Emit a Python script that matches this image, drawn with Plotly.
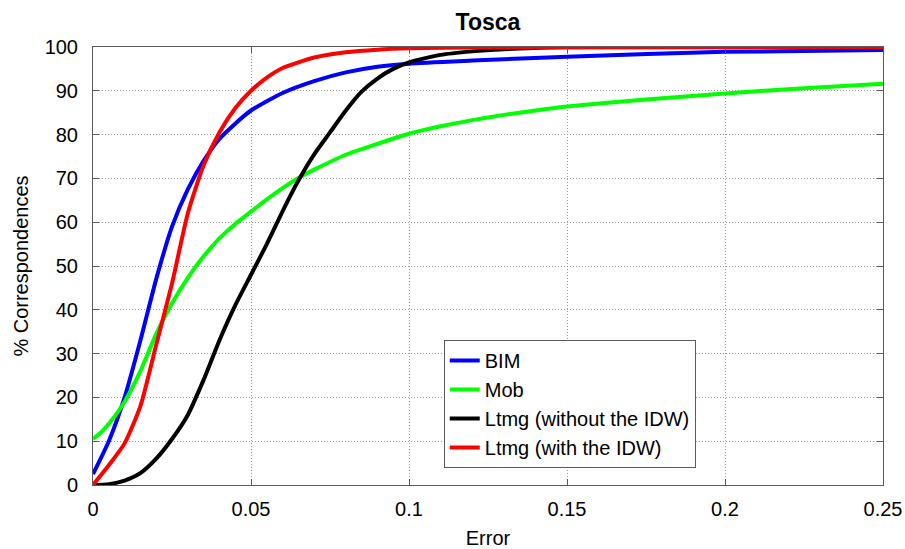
import plotly.graph_objects as go

bim_x = [0, 0.005, 0.01, 0.015, 0.02, 0.025, 0.03, 0.035, 0.04, 0.045, 0.05, 0.06, 0.07, 0.08, 0.09, 0.1, 0.12, 0.15, 0.2, 0.25]
bim_y = [2.5, 10, 20, 33, 47, 59, 67.5, 74, 79, 82.5, 85.5, 89.5, 92.2, 94.2, 95.5, 96.2, 96.9, 97.8, 98.9, 99.3]

mob_x = [0, 0.0025, 0.005, 0.0075, 0.01, 0.015, 0.02, 0.025, 0.03, 0.035, 0.04, 0.045, 0.05, 0.055, 0.06, 0.065, 0.07, 0.08, 0.09, 0.1, 0.11, 0.12, 0.13, 0.14, 0.15, 0.175, 0.2, 0.225, 0.25]
mob_y = [10.5, 12, 14, 16.3, 19, 26, 34.5, 41.5, 47.3, 52.2, 56.3, 59.6, 62.4, 65.2, 67.8, 70.1, 72.0, 75.4, 77.9, 80.2, 81.9, 83.3, 84.5, 85.5, 86.4, 88.0, 89.4, 90.6, 91.6]

ltmg_x = [0, 0.005, 0.01, 0.015, 0.02, 0.025, 0.03, 0.035, 0.04, 0.045, 0.05, 0.055, 0.06, 0.065, 0.07, 0.075, 0.08, 0.085, 0.09, 0.095, 0.1, 0.11, 0.12, 0.13, 0.14, 0.15, 0.25]
ltmg_y = [0, 0.2, 1, 2.7, 6, 10.5, 16, 24, 33, 41, 48, 55, 62.5, 69.5, 75.5, 80.5, 85.5, 89.8, 92.8, 95, 96.5, 98.2, 99, 99.5, 99.8, 100, 100]

idw_x = [0, 0.005, 0.01, 0.015, 0.02, 0.025, 0.03, 0.035, 0.04, 0.045, 0.05, 0.055, 0.06, 0.065, 0.07, 0.08, 0.09, 0.1, 0.12, 0.25]
idw_y = [0, 4.5, 9.5, 18, 32, 46, 62, 73, 80.5, 86, 90, 93, 95.2, 96.5, 97.6, 98.8, 99.4, 99.7, 99.9, 100]

x_ticks = [0, 0.05, 0.1, 0.15, 0.2, 0.25]
x_tick_labels = ["0", "0.05", "0.1", "0.15", "0.2", "0.25"]
y_ticks = [0, 10, 20, 30, 40, 50, 60, 70, 80, 90, 100]

series = [
    ("BIM", bim_x, bim_y, "#0000ff"),
    ("Mob", mob_x, mob_y, "#00ff00"),
    ("Ltmg (without the IDW)", ltmg_x, ltmg_y, "#000000"),
    ("Ltmg (with the IDW)", idw_x, idw_y, "#ff0000"),
]

fig = go.Figure()
for name, xs, ys, col in series:
    fig.add_trace(go.Scatter(x=xs, y=ys, name=name, mode="lines",
                             line=dict(color=col, width=4, shape="spline", smoothing=0.6)))

font = "Liberation Sans, Arial, sans-serif"
axis_common = dict(
    showgrid=True, gridcolor="#9a9a9a", griddash="1px,2px", gridwidth=1,
    showline=True, linecolor="#5a5a5a", linewidth=1, mirror="ticks",
    ticks="inside", ticklen=6, tickcolor="#5a5a5a", zeroline=False,
    tickfont=dict(size=20), automargin=False,
)
fig.update_layout(
    width=905, height=549,
    margin=dict(l=93, r=22, t=47, b=64),
    paper_bgcolor="white", plot_bgcolor="white",
    font=dict(family=font, size=20, color="black"),
    title=dict(text="<b>Tosca</b>", x=(93 + 883) / 2 / 905, xanchor="center",
               y=1 - 22 / 549, yanchor="middle", font=dict(size=23)),
    showlegend=True,
    legend=dict(x=0.444, y=0.331, xanchor="left", yanchor="top",
                bgcolor="white", bordercolor="#5a5a5a", borderwidth=1,
                font=dict(size=20), tracegroupgap=0),
    xaxis=dict(range=[0, 0.25], tickvals=x_ticks, ticktext=x_tick_labels,
               ticklabelstandoff=6,
               title=dict(text="Error", font=dict(size=20), standoff=14),
               **axis_common),
    yaxis=dict(range=[0, 100], tickvals=y_ticks, ticklabelstandoff=10,
               title=dict(text="% Correspondences", font=dict(size=20), standoff=10),
               **axis_common),
)

fig.write_html("out.html", config={"displayModeBar": False},
               post_script="document.body.style.margin='0';")
